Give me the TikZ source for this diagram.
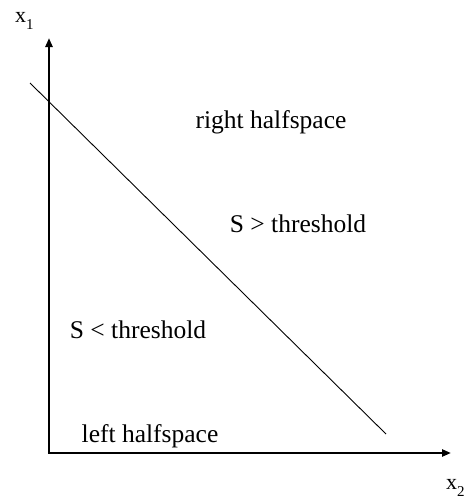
\documentclass[tikz,border=0pt]{standalone}
\usepackage{fontspec}
\setmainfont{Liberation Serif}
\usetikzlibrary{arrows.meta}
\newcommand{\axsub}[1]{\raisebox{-7pt}{\fontsize{15}{15}\selectfont #1}}
\begin{document}
\begin{tikzpicture}[x=1pt,y=-1pt,
  axis/.style={line width=2.4pt,-{Triangle[length=9pt,width=7pt]}},
  lbl/.style={font=\fontsize{25.5}{30}\selectfont,inner sep=0pt,anchor=base},
  axlbl/.style={font=\fontsize{22}{26}\selectfont,inner sep=0pt,anchor=base west}]
\useasboundingbox (0,0) rectangle (467,498);
\coordinate (o) at (49,453);
\coordinate (ytip) at (49,38);
\coordinate (xtip) at (451,453);
\coordinate (d1) at (30,83);
\coordinate (d2) at (386,434);
\draw[axis] ([yshift=1.2pt]o) -- (ytip);
\draw[axis] ([xshift=-1.2pt]o) -- (xtip);
\draw[line width=0.9pt] (d1) -- (d2);
\node[axlbl] (x1) at (15,22) {x\axsub{1}};
\node[axlbl] (x2) at (446,489) {x\axsub{2}};
\node[lbl] (rh) at (271,128) {right halfspace};
\node[lbl] (sg) at (298,232) {S > threshold};
\node[lbl] (sl) at (138,338) {S < threshold};
\node[lbl] (lh) at (150,442) {left halfspace};
\end{tikzpicture}
\end{document}
